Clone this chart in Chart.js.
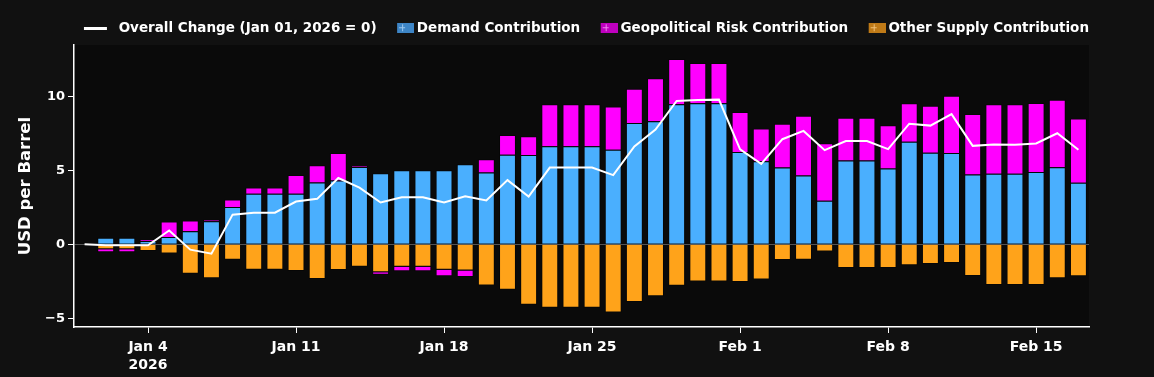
<!DOCTYPE html>
<html>
<head>
<meta charset="utf-8">
<script src="https://cdn.jsdelivr.net/npm/chart.js@4.4.1/dist/chart.umd.min.js"></script>
<style>
  html, body { margin: 0; padding: 0; background: #111111; }
  #wrap { width: 1154px; height: 377px; }
</style>
</head>
<body>
<div id="wrap"><canvas id="chart" width="1154" height="377"></canvas></div>
<script>
// one category per day, Jan 1 .. Feb 17 2026
var days = ['Jan 1','Jan 2','Jan 3','Jan 4','Jan 5','Jan 6','Jan 7','Jan 8','Jan 9','Jan 10',
  'Jan 11','Jan 12','Jan 13','Jan 14','Jan 15','Jan 16','Jan 17','Jan 18','Jan 19','Jan 20',
  'Jan 21','Jan 22','Jan 23','Jan 24','Jan 25','Jan 26','Jan 27','Jan 28','Jan 29','Jan 30','Jan 31',
  'Feb 1','Feb 2','Feb 3','Feb 4','Feb 5','Feb 6','Feb 7','Feb 8','Feb 9','Feb 10',
  'Feb 11','Feb 12','Feb 13','Feb 14','Feb 15','Feb 16','Feb 17'];
var tickDays = ['Jan 4','Jan 11','Jan 18','Jan 25','Feb 1','Feb 8','Feb 15'];
var yearLabel = '2026';

var overall = [0, -0.07, -0.07, -0.07, 0.94, -0.36, -0.63, 2.01, 2.14, 2.14, 2.9, 3.08, 4.49, 3.84, 2.83,
  3.19, 3.19, 2.83, 3.26, 2.97, 4.35, 3.24, 5.2, 5.2, 5.2, 4.69, 6.63, 7.77, 9.71, 9.78, 9.8,
  6.43, 5.45, 7.12, 7.68, 6.38, 7.0, 7.0, 6.45, 8.17, 8.04, 8.82, 6.67, 6.76, 6.74, 6.83, 7.52, 6.4];
var demand = [null, 0.44, 0.44, 0.22, 0.5, 0.89, 1.56, 2.52, 3.42, 3.42, 3.42, 4.19, 4.33, 5.24, 4.82,
  5.02, 5.02, 5.02, 5.42, 4.86, 6.07, 6.05, 6.65, 6.65, 6.65, 6.4, 8.21, 8.33, 9.48, 9.55, 9.55,
  6.25, 5.63, 5.2, 4.66, 2.95, 5.67, 5.67, 5.13, 6.94, 6.2, 6.18, 4.73, 4.78, 4.78, 4.89, 5.22, 4.17];
var geo = [null, -0.2, -0.2, 0.1, 1.04, 0.72, 0.11, 0.51, 0.42, 0.42, 1.27, 1.17, 1.85, 0.07, -0.16,
  -0.31, -0.31, -0.45, -0.44, 0.9, 1.34, 1.27, 2.83, 2.83, 2.83, 2.93, 2.33, 2.92, 3.07, 2.73, 2.73,
  2.72, 2.21, 2.97, 4.05, 3.9, 2.9, 2.9, 2.93, 2.61, 3.18, 3.89, 4.09, 4.7, 4.7, 4.69, 4.58, 4.36];
var otherSupply = [null, -0.33, -0.33, -0.45, -0.63, -2.0, -2.3, -1.05, -1.72, -1.72, -1.81, -2.35, -1.74, -1.52, -1.9,
  -1.52, -1.52, -1.72, -1.77, -2.79, -3.08, -4.09, -4.29, -4.29, -4.29, -4.62, -3.91, -3.51, -2.81, -2.52, -2.52,
  -2.55, -2.39, -1.07, -1.05, -0.49, -1.61, -1.61, -1.61, -1.41, -1.34, -1.27, -2.14, -2.75, -2.75, -2.75, -2.3, -2.17];

Chart.defaults.font.family = '"DejaVu Sans", Arial, sans-serif';
Chart.defaults.font.weight = 'bold';
Chart.defaults.color = '#ffffff';

// legend swatches: 34px wide canvas, box sits in the right part so gaps match the original
function swatch(fill, mark) {
  var c = document.createElement('canvas');
  c.width = 34; c.height = 10;
  var g = c.getContext('2d');
  g.fillStyle = fill;
  g.fillRect(17, 0, 17, 10);
  g.strokeStyle = mark;
  g.lineWidth = 1;
  g.beginPath();
  g.moveTo(19, 4.5); g.lineTo(25, 4.5);
  g.moveTo(22.5, 1); g.lineTo(22.5, 8);
  g.stroke();
  return c;
}
var lineSwatch = document.createElement('canvas');
lineSwatch.width = 34; lineSwatch.height = 3;
lineSwatch.getContext('2d').fillStyle = '#ffffff';
lineSwatch.getContext('2d').fillRect(2, 0, 23, 3);

var swatches = [lineSwatch, swatch('#3d85c6', '#9cc8ef'), swatch('#bf7a17', '#f0c078'), swatch('#bf00bf', '#f07ff0')];
var legendOrder = [0, 1, 3, 2];

var plotBg = {
  id: 'plotBg',
  afterLayout: function(chart) {
    // legend row ends with its own padding; nudge it so text ends at the plot's right edge
    chart.legend.left += 7.5;
    chart.legend.right += 7.5;
  },
  beforeDraw: function(chart) {
    var a = chart.chartArea, ctx = chart.ctx;
    ctx.save();
    ctx.fillStyle = '#0a0a0a';
    ctx.fillRect(a.left, a.top, a.right - a.left, a.bottom - a.top);
    ctx.restore();
  }
};

var ctx = document.getElementById('chart').getContext('2d');
var chart = new Chart(ctx, {
  type: 'bar',
  data: {
    labels: days,
    datasets: [
      { type: 'line', label: 'Overall Change (Jan 01, 2026 = 0)', data: overall,
        borderColor: '#ffffff', borderWidth: 2, pointRadius: 0, tension: 0 },
      { label: 'Demand Contribution', data: demand, backgroundColor: '#4aaffe' },
      { label: 'Other Supply Contribution', data: otherSupply, backgroundColor: '#ffa31a' },
      { label: 'Geopolitical Risk Contribution', data: geo, backgroundColor: '#ff00ff' }
    ]
  },
  options: {
    responsive: false,
    animation: false,
    layout: { padding: { top: 14, right: 65, left: 0, bottom: 0 } },
    datasets: {
      bar: { barPercentage: 0.8, categoryPercentage: 1, borderWidth: 1, borderColor: 'rgba(0,0,0,0.4)' }
    },
    plugins: {
      tooltip: { enabled: false },
      legend: {
        align: 'end',
        labels: {
          usePointStyle: true,
          pointStyleWidth: 26,
          padding: 7.5,
          font: { size: 13.5, weight: 'bold' },
          color: '#ffffff',
          generateLabels: function(chart) {
            return legendOrder.map(function(i) {
              return { text: chart.data.datasets[i].label, datasetIndex: i, pointStyle: swatches[i],
                fillStyle: '#fff', strokeStyle: '#fff', lineWidth: 0, fontColor: '#ffffff',
                hidden: !chart.isDatasetVisible(i) };
            });
          }
        }
      }
    },
    scales: {
      x: {
        stacked: true,
        offset: true,
        afterFit: function(s) { s.height = 50; },
        border: { color: '#ffffff', width: 1.5 },
        grid: {
          offset: false,
          drawOnChartArea: false,
          tickLength: 6,
          tickColor: function(c) { return tickDays.indexOf(days[c.index]) >= 0 ? '#ffffff' : 'rgba(0,0,0,0)'; }
        },
        ticks: {
          autoSkip: false,
          maxRotation: 0,
          padding: 5,
          font: { size: 14, weight: 'bold', lineHeight: 1.3 },
          callback: function(v, i) {
            var d = days[i];
            if (tickDays.indexOf(d) < 0) return '';
            return i === days.indexOf(tickDays[0]) ? [d, yearLabel] : d;
          }
        }
      },
      y: {
        stacked: true,
        min: -5.6,
        max: 13.5,
        afterFit: function(s) { s.width = 74; },
        border: { color: '#ffffff', width: 1.5 },
        grid: {
          drawOnChartArea: true,
          tickLength: 6,
          tickColor: '#ffffff',
          color: function(c) { return c.tick && c.tick.value === 0 ? '#555555' : 'rgba(0,0,0,0)'; }
        },
        ticks: {
          stepSize: 5,
          includeBounds: false,
          padding: 3,
          font: { size: 13, weight: 'bold' },
          callback: function(v) { return String(v).replace('-', '\u2212'); }
        },
        title: {
          display: true,
          text: 'USD per Barrel',
          font: { size: 16.5, weight: 'bold' },
          padding: { top: 16, bottom: 4 }
        }
      }
    }
  },
  plugins: [plotBg]
});
</script>
</body>
</html>
